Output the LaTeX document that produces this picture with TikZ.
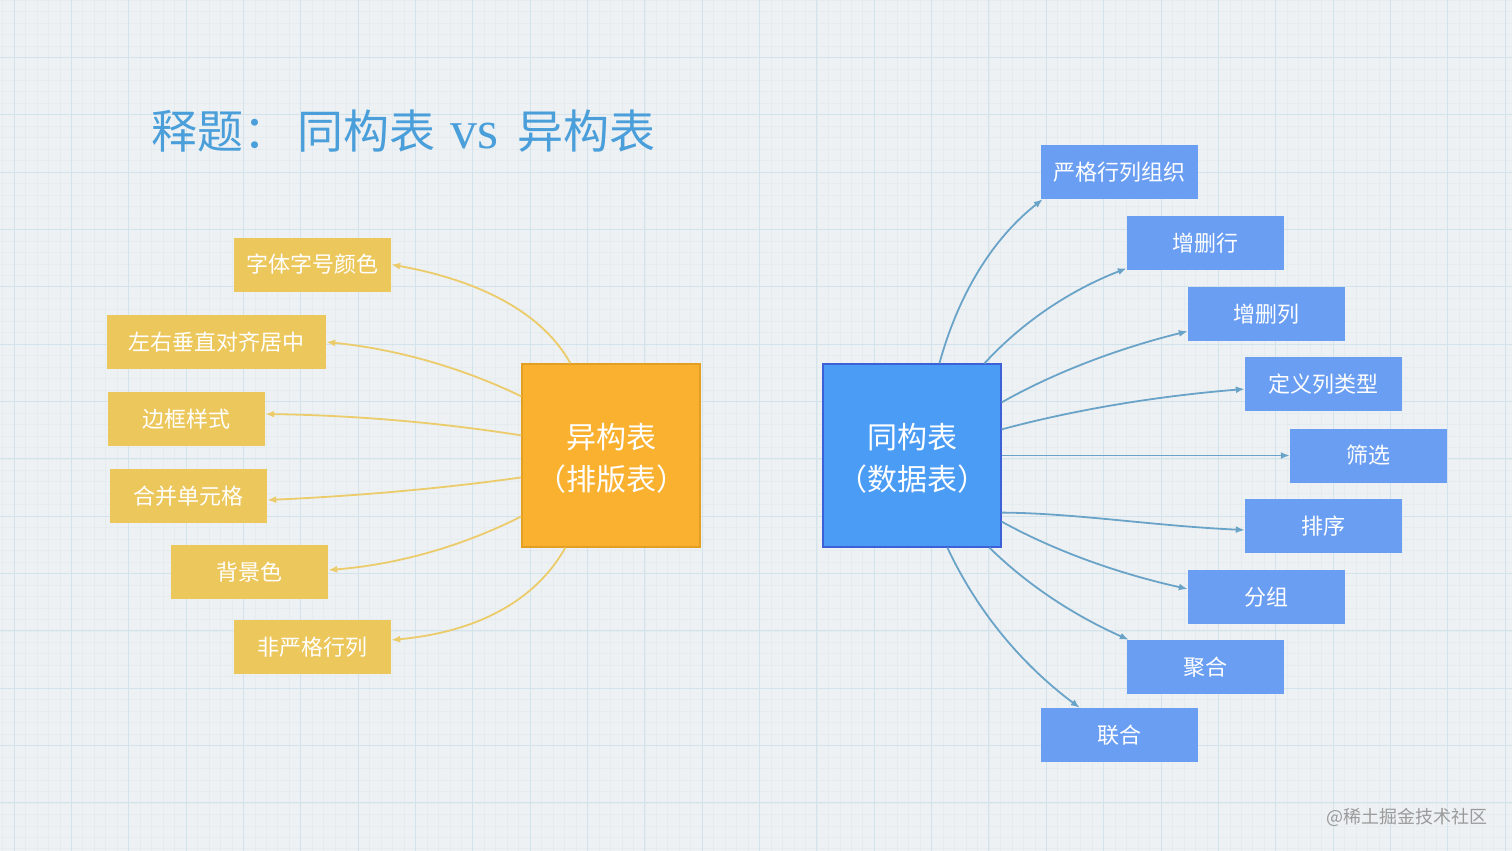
\documentclass[tikz,border=0pt]{standalone}
\usepackage{fontspec}
\setmainfont{Liberation Serif}
\newfontfamily\cjk{Noto Sans CJK SC}
\usetikzlibrary{arrows.meta}
\definecolor{bgc}{HTML}{EEF1F3}
\definecolor{gridmajor}{HTML}{D3E3EB}
\definecolor{gridminor}{HTML}{E5ECEF}
\definecolor{titlec}{HTML}{4A9FDA}
\definecolor{yelbox}{HTML}{ECC75C}
\definecolor{yelline}{HTML}{EBCB6A}
\definecolor{orabox}{HTML}{F9B12F}
\definecolor{oraedge}{HTML}{E39F22}
\definecolor{bluemain}{HTML}{4B9CF5}
\definecolor{blueedge}{HTML}{3C60D8}
\definecolor{bluebox}{HTML}{6A9EF2}
\definecolor{blueline}{HTML}{6AA3C8}
\definecolor{markc}{HTML}{9A9A9A}
\tikzset{
  ybox/.style={fill=yelbox, draw=none, minimum width=157pt, minimum height=54pt, inner sep=0pt, text=white, font=\cjk\fontsize{22}{26}\selectfont},
  bbox/.style={fill=bluebox, draw=none, minimum width=157pt, minimum height=54pt, inner sep=0pt, text=white, font=\cjk\fontsize{22}{26}\selectfont},
  bigbox/.style={minimum width=178pt, minimum height=183pt, inner sep=0pt, line width=1.2pt},
  bigtext/.style={text=white, align=center, inner sep=0pt, font=\cjk\fontsize{30}{42}\selectfont},
  yconn/.style={draw=yelline, line width=1.8pt, -{Latex[length=9pt,width=7pt]}},
  bconn/.style={draw=blueline, line width=1.8pt, -{Latex[length=9pt,width=7pt]}},
}
\begin{document}
\begin{tikzpicture}[x=1pt,y=-1pt]
\useasboundingbox (0,0) rectangle (1512,851);
\fill[bgc] (0,0) rectangle (1512,851);
% minor grid
\foreach \i in {0,...,132} {
  \draw[gridminor, line width=0.6pt] ({2.5+11.47*\i},0) -- ({2.5+11.47*\i},851);
}
\foreach \j in {0,...,74} {
  \draw[gridminor, line width=0.6pt] (0,{11.47*\j}) -- (1512,{11.47*\j});
}
% major grid
\foreach \i in {0,...,26} {
  \draw[gridmajor, line width=1pt] ({14+57.35*\i},0) -- ({14+57.35*\i},851);
}
\foreach \j in {0,...,14} {
  \draw[gridmajor, line width=1pt] (0,{57.35*\j}) -- (1512,{57.35*\j});
}

% title
\node[anchor=west, text=titlec, inner sep=0pt] (title) at (151,131)
  {\fontsize{46}{50}\selectfont{\cjk 释题：}\hspace{8pt}{\cjk 同构表}\hspace{15pt}{\fontsize{54}{56}\selectfont vs}\hspace{19pt}{\cjk 异构表}};

% central boxes
\node[bigbox, fill=orabox, draw=oraedge] (het) at (611,455.5) {};
\node[bigtext] (hett) at (611,458) {异构表\\（排版表）};
\node[bigbox, fill=bluemain, draw=blueedge] (hom) at (912,455.5) {};
\node[bigtext] (homt) at (912,458) {同构表\\（数据表）};

% left boxes
\node[ybox] (l1) at (312.5,264.5) {字体字号颜色};
\node[ybox, minimum width=219pt] (l2) at (216.5,342) {左右垂直对齐居中};
\node[ybox] (l3) at (186.5,419) {边框样式};
\node[ybox] (l4) at (188.5,496) {合并单元格};
\node[ybox] (l5) at (249.5,572) {背景色};
\node[ybox] (l6) at (312.5,647) {非严格行列};

% right boxes
\node[bbox] (r1) at (1119.5,172) {严格行列组织};
\node[bbox] (r2) at (1205.5,243) {增删行};
\node[bbox] (r3) at (1266.5,314) {增删列};
\node[bbox] (r4) at (1323.5,384) {定义列类型};
\node[bbox] (r5) at (1368.5,455.5) {筛选};
\node[bbox] (r6) at (1323.5,526) {排序};
\node[bbox] (r7) at (1266.5,597) {分组};
\node[bbox] (r8) at (1205.5,667) {聚合};
\node[bbox] (r9) at (1119.5,735) {联合};

% left connectors
\draw[yconn] ([xshift=49pt]het.north west) .. controls (543.7,314.7) and (483.7,281.3) .. (l1.east);
\draw[yconn] ([yshift=-33pt]het.north west) .. controls (460.7,367) and (395.3,349) .. (l2.east);
\draw[yconn] ([yshift=-72pt]het.north west) .. controls (440.7,422.7) and (355,415.3) .. ([yshift=5pt]l3.east);
\draw[yconn] ([yshift=-114pt]het.north west) .. controls (440.7,488.7) and (355.7,496) .. ([yshift=-4pt]l4.east);
\draw[yconn] ([yshift=-153pt]het.north west) .. controls (460.7,547) and (396,564.7) .. ([yshift=2pt]l5.east);
\draw[yconn] ([xshift=44pt]het.south west) .. controls (535.3,601) and (477,632) .. ([yshift=7pt]l6.east);

% right connectors
\draw[bconn] ([xshift=117pt]hom.north west) .. controls (958.7,293.3) and (993,238.3) .. ([xshift=2pt]r1.south west);
\draw[bconn] ([xshift=162pt]hom.north west) .. controls (1021.7,322.7) and (1069,290.7) .. ([yshift=2pt]r2.south west);
\draw[bconn] ([yshift=-39pt]hom.north east) .. controls (1053.7,373) and (1116,349) .. ([yshift=10pt]r3.south west);
\draw[bconn] ([yshift=-66pt]hom.north east) .. controls (1073.7,410) and (1155,396.3) .. ([yshift=-5pt]r4.west);
\draw[bconn] (hom.east) -- (r5.west);
\draw[bconn] ([yshift=35pt]hom.south east) .. controls (1073.7,513) and (1155,526) .. ([yshift=-4pt]r6.west);
\draw[bconn] ([yshift=26pt]hom.south east) .. controls (1053.7,550.3) and (1116,573) .. ([yshift=8pt]r7.west);
\draw[bconn] ([xshift=167pt]hom.south west) .. controls (1026.7,584.3) and (1073,615) .. ([xshift=2pt]r8.north west);
\draw[bconn] ([xshift=125pt]hom.south west) .. controls (976,609) and (1020,663.3) .. ([xshift=39pt]r9.north west);

% watermark
\node[anchor=east, text=markc, inner sep=0pt, font=\cjk\fontsize{18}{20}\selectfont] (mark) at (1488,817) {@稀土掘金技术社区};
\end{tikzpicture}
\end{document}
